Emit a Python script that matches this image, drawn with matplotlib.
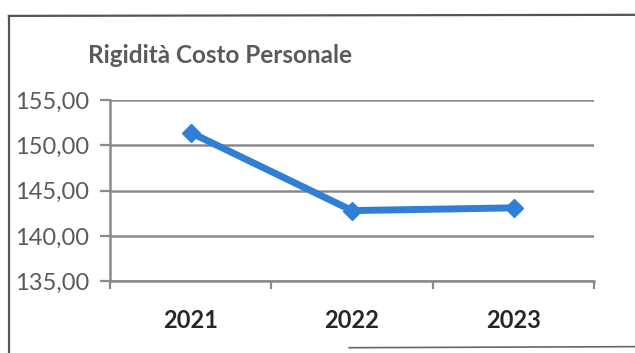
import matplotlib
matplotlib.use("Agg")
import matplotlib.pyplot as plt
from matplotlib.lines import Line2D
from matplotlib.ticker import FuncFormatter, MultipleLocator

years = ["2021", "2022", "2023"]
rigidita = [151.4, 142.8, 143.1]

BLUE = "#2f7fd6"; GRID = "#8a8a8a"; TXT = "#5a5a5a"; DARK = "#262626"

fig = plt.figure(figsize=(6.35, 3.53), dpi=100)
ax = fig.add_axes([0.173, 0.203, 0.763, 0.514])

x = range(len(years))
ax.plot(x, rigidita, color=BLUE, lw=5, marker="D", ms=9, solid_joinstyle="round", zorder=3)

ax.set_xlim(-0.5, len(years) - 0.5)
ax.set_ylim(135, 155)
ax.yaxis.set_major_locator(MultipleLocator(5))
ax.yaxis.set_major_formatter(FuncFormatter(lambda v, _: f"{v:.2f}".replace(".", ",")))
ax.set_xticks([i - 0.5 for i in range(len(years) + 1)], minor=False)
ax.set_xticklabels([])
ax.set_xticks(list(x), minor=True)
ax.set_xticklabels(years, minor=True, fontfamily="Lato", fontweight="bold", fontsize=17, color=DARK)
ax.tick_params(axis="x", which="minor", length=0, pad=20)
ax.tick_params(axis="x", which="major", length=6, width=1.6, color=GRID, direction="out")
ax.tick_params(axis="y", length=7, width=1.6, color=GRID, direction="out", pad=8)
for lab in ax.get_yticklabels():
    lab.set_fontfamily("Lato"); lab.set_fontsize(17); lab.set_color(TXT)

ax.grid(axis="y", color=GRID, lw=1.8)
for s in ["top", "right"]:
    ax.spines[s].set_visible(False)
for s in ["left", "bottom"]:
    ax.spines[s].set_color(GRID); ax.spines[s].set_linewidth(1.8)

fig.text(0.139, 0.843, "Rigidità Costo Personale", fontfamily="Lato", fontweight="bold",
         fontsize=17.5, color=TXT, va="center", ha="left")

# chart frame edges
fig.add_artist(Line2D([0.014, 1.0], [0.955, 0.958], color="#555555", lw=1.6))
fig.add_artist(Line2D([0.014, 0.014], [0.955, 0.0], color="#555555", lw=1.6))
fig.add_artist(Line2D([0.55, 1.0], [0.015, 0.018], color="#666666", lw=1.2))

fig.savefig("out.png", dpi=100)
